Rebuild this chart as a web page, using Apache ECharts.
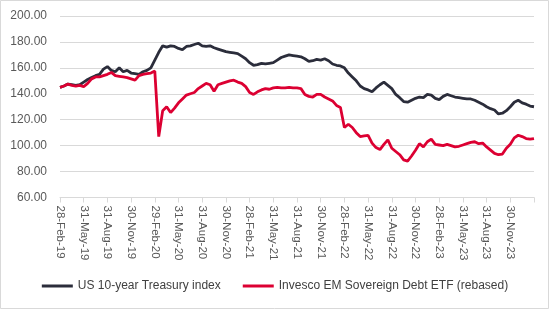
<!DOCTYPE html>
<html>
<head>
<meta charset="utf-8">
<script src="https://cdn.jsdelivr.net/npm/echarts@6/dist/echarts.min.js"></script>
<style>
html,body{margin:0;padding:0;background:#fff;}
#chart{width:550px;height:330px;}
</style>
</head>
<body>
<div id="chart"></div>
<script>
// Quarter-end tick labels (one every 6 half-month steps)
var tickLabels = ['28-Feb-19','31-May-19','31-Aug-19','30-Nov-19','29-Feb-20','31-May-20','31-Aug-20','30-Nov-20',
  '28-Feb-21','31-May-21','31-Aug-21','30-Nov-21','28-Feb-22','31-May-22','31-Aug-22','30-Nov-22',
  '28-Feb-23','31-May-23','31-Aug-23','30-Nov-23'];
var stepsPerQuarter = 6;

// US 10-year Treasury index (half-monthly readings, Feb-19 .. Feb-24)
var usTreasury = [
  145,146,147.5,147,146.5,147,
  149,151,152.5,154,155,159,
  161,158,157,160,157,158,
  156,155.5,155,157,158,160,
  166,172,177,176,177,176.5,
  175,174,176.5,177,178,179,
  177,176.5,177,175.5,174.5,173.5,
  172.5,172,171.5,171,169,167,
  164,162,162.5,163.5,163,163.5,
  164,166,168,169,170,169.5,
  169,168.5,167,165,165.5,166.5,
  166,167,165.5,163,162,161.5,
  160,156,153,150,146,144,
  143,141.5,144.5,147,149,146.5,
  144,139.5,137,134,133.5,135,
  136.5,137.5,137,139.5,139,136.5,
  135.5,138,139.5,138.5,137.5,137,
  136.5,136,136,135,133.5,132,
  130,128.5,127.5,124.5,125,127,
  130,133.5,135,133,132,130.5,
  130
];

// Invesco EM Sovereign Debt ETF (rebased)
var emDebt = [
  145,146,147.5,146.5,146,146.5,
  145.5,148,151.5,153,153,154,
  155,156.5,154,153.5,153,152.5,
  151.5,150.5,154,155,155.5,156,
  157.5,107,127,130,125.5,129,
  133,136,139,140,141,144,
  146,148,147,142,147,148,
  149,150,150.5,149,148,145.5,
  141,139.5,141.5,143,144,143.5,
  144.5,145,144.5,144.5,145,144.5,
  144.5,144,139.5,138,137.5,139.5,
  139.5,137.5,136,134.5,131,129.5,
  114,116.5,114,110,107,107.5,
  108,102,98.5,97,101,104.5,
  98,95.5,93,89,88,92,
  96.5,101.5,99,103,105,101,
  100.5,100,101,100,99,99.5,
  100.5,101.5,102.5,103,101.5,102,
  99,96.5,94,93,93.5,98,
  101,106,108,107,105.5,105,
  105.5
];

var categories = usTreasury.map(function(_, i){ return String(i); });

var chart = echarts.init(document.getElementById('chart'), null, {renderer:'canvas'});
var font = 'Liberation Sans, Arial, sans-serif';
chart.setOption({
  animation:false,
  backgroundColor:'#ffffff',
  graphic:[{
    type:'rect', silent:true,
    shape:{x:0.5,y:0.5,width:548,height:308},
    style:{fill:'none',stroke:'#d9d9d9',lineWidth:1}
  }],
  grid:{left:60,right:16,top:16,bottom:132.5,containLabel:false},
  legend:{
    bottom:33, left:'center',
    icon:'rect', itemWidth:31, itemHeight:3, itemGap:22,
    textStyle:{color:'#404040',fontSize:12,fontFamily:font},
    data:['US 10-year Treasury index','Invesco EM Sovereign Debt ETF (rebased)']
  },
  xAxis:{
    type:'category', boundaryGap:false, data:categories,
    axisLine:{lineStyle:{color:'#d9d9d9',width:1}},
    axisTick:{show:true,length:5,lineStyle:{color:'#d9d9d9'},
      interval:function(i){ return i % stepsPerQuarter === 0; }},
    axisLabel:{
      rotate:-90, margin:8, color:'#595959', fontSize:11.5, fontFamily:font,
      interval:function(i){ return i % stepsPerQuarter === 0 && (i/stepsPerQuarter) < tickLabels.length; },
      formatter:function(v, i){ return tickLabels[i/stepsPerQuarter] || ''; }
    },
    splitLine:{show:false}
  },
  yAxis:{
    type:'value', min:60, max:200, interval:20,
    axisLine:{show:false}, axisTick:{show:false},
    axisLabel:{margin:13,color:'#595959',fontSize:12,fontFamily:font,
      formatter:function(v){ return v.toFixed(2); }},
    splitLine:{lineStyle:{color:'#d9d9d9',width:1}}
  },
  series:[
    {name:'US 10-year Treasury index', type:'line', data:usTreasury, showSymbol:false,
     lineStyle:{color:'#2b2d3b',width:2.8}, itemStyle:{color:'#2b2d3b'}, z:2},
    {name:'Invesco EM Sovereign Debt ETF (rebased)', type:'line', data:emDebt, showSymbol:false,
     lineStyle:{color:'#dc0032',width:2.8}, itemStyle:{color:'#dc0032'}, z:3}
  ]
});
</script>
</body>
</html>
